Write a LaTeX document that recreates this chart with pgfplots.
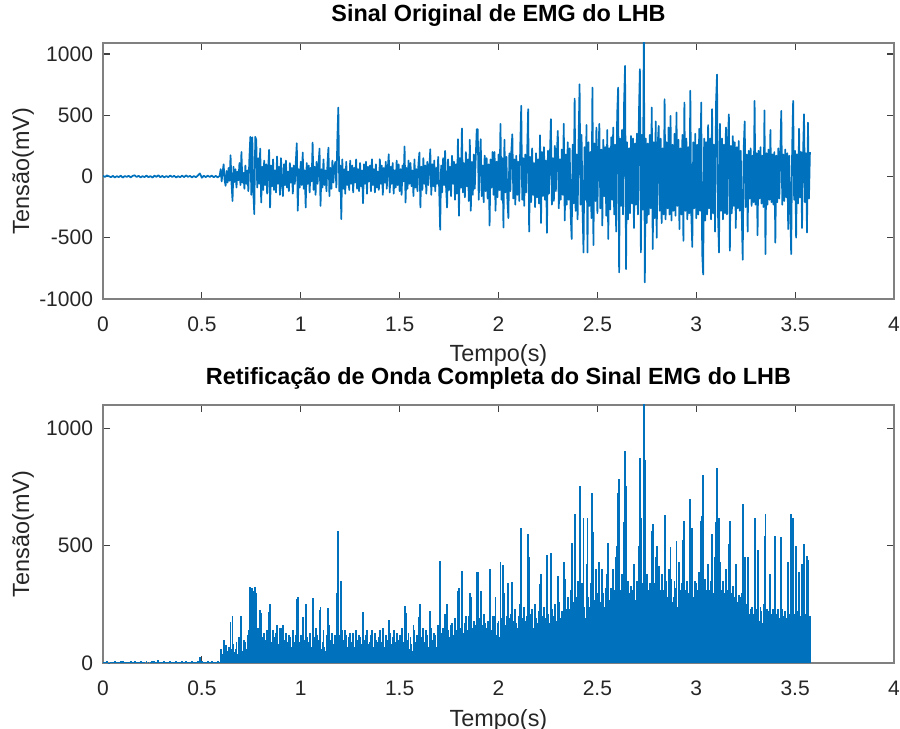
\documentclass[border=0pt]{standalone}
\usepackage{fontspec}
\setmainfont{Liberation Sans}
\usepackage{pgfplots}
\usepackage{pgfplotstable}
\pgfplotsset{compat=1.18}
\definecolor{mblue}{RGB}{0,114,189}
\pgfplotstableread{
t v
0.000 6
0.010 -4
0.020 9
0.030 2
0.040 -6
0.050 5
0.060 -8
0.070 3
0.080 -5
0.090 7
0.100 -9
0.110 4
0.120 -3
0.130 6
0.140 -7
0.150 5
0.160 10
0.170 -4
0.180 6
0.190 -8
0.200 3
0.210 -5
0.220 8
0.230 -6
0.240 4
0.250 -9
0.260 7
0.270 -3
0.280 11
0.290 -6
0.300 5
0.310 -7
0.320 4
0.330 -5
0.340 8
0.350 -4
0.360 6
0.370 -8
0.380 3
0.390 -6
0.400 7
0.410 -5
0.420 9
0.430 -3
0.440 5
0.450 -7
0.460 4
0.470 -6
0.480 8
0.490 25
0.500 -10
0.510 6
0.520 -5
0.530 7
0.540 -4
0.550 8
0.560 -6
0.570 5
0.580 -7
0.590 5
0.595 60
0.600 -40
0.605 35
0.610 100
0.615 -30
0.620 -76
0.625 45
0.630 -50
0.635 70
0.640 -35
0.645 174
0.650 -60
0.655 -200
0.660 80
0.665 -45
0.670 60
0.675 -90
0.680 40
0.685 -30
0.690 110
0.695 -70
0.700 200
0.705 -50
0.710 30
0.715 -100
0.720 90
0.725 -60
0.730 50
0.735 -120
0.740 140
0.745 324
0.750 -150
0.755 320
0.760 -120
0.765 -307
0.770 324
0.775 300
0.780 -90
0.785 150
0.790 -60
0.795 228
0.800 -212
0.805 80
0.810 -110
0.815 130
0.820 -70
0.825 100
0.830 -140
0.835 60
0.840 218
0.845 -253
0.850 90
0.855 -80
0.860 140
0.865 -110
0.870 50
0.875 -130
0.880 163
0.885 -60
0.890 80
0.895 -150
0.900 150
0.905 -40
0.910 -160
0.915 100
0.920 -70
0.925 130
0.930 -90
0.935 40
0.940 -120
0.945 110
0.950 -50
0.955 70
0.960 -140
0.965 90
0.970 -60
0.975 120
0.980 272
0.985 -280
0.990 60
0.995 -90
1.000 120
1.005 -70
1.010 196
1.015 -100
1.020 50
1.025 -253
1.030 110
1.035 -60
1.040 90
1.045 -130
1.050 70
1.055 -40
1.060 277
1.065 -110
1.070 80
1.075 -150
1.080 120
1.085 -60
1.090 100
1.095 228
1.100 -240
1.105 60
1.110 -90
1.115 140
1.120 -70
1.125 50
1.130 -120
1.135 100
1.140 236
1.145 -160
1.150 70
1.155 -100
1.160 130
1.165 -50
1.170 80
1.175 120
1.180 -90
1.185 300
1.190 563
1.195 -120
1.200 90
1.205 -348
1.210 140
1.215 -100
1.220 60
1.225 -140
1.230 120
1.235 -70
1.240 40
1.245 -110
1.250 130
1.255 -60
1.260 90
1.265 -130
1.270 70
1.275 -50
1.280 140
1.285 -100
1.290 60
1.295 -120
1.300 110
1.305 -80
1.310 50
1.315 -218
1.320 100
1.325 -60
1.330 120
1.335 -140
1.340 80
1.345 -40
1.350 90
1.355 -120
1.360 141
1.365 -70
1.370 60
1.375 -130
1.380 100
1.385 -90
1.390 40
1.395 -110
1.400 141
1.405 -60
1.410 90
1.415 -150
1.420 70
1.425 -50
1.430 120
1.435 -100
1.440 60
1.445 182
1.450 -130
1.455 80
1.460 -60
1.465 110
1.470 -140
1.475 50
1.480 -90
1.485 130
1.490 -70
1.495 100
1.500 -120
1.505 60
1.510 -150
1.515 90
1.520 -40
1.525 245
1.530 -212
1.535 70
1.540 -100
1.545 130
1.550 -60
1.555 110
1.560 -80
1.565 50
1.570 -160
1.575 140
1.580 -90
1.585 60
1.590 -120
1.595 100
1.600 196
1.605 -253
1.610 80
1.615 -110
1.620 150
1.625 -60
1.630 90
1.635 -140
1.640 120
1.645 -70
1.650 60
1.655 223
1.660 -150
1.665 100
1.670 -80
1.675 130
1.680 -120
1.685 70
1.690 -60
1.695 160
1.700 -100
1.705 -435
1.710 90
1.715 -130
1.720 150
1.725 -70
1.730 210
1.735 -90
1.740 -253
1.745 140
1.750 -110
1.755 80
1.760 -160
1.765 170
1.770 -60
1.775 120
1.780 -190
1.785 100
1.790 -140
1.795 305
1.800 -320
1.805 150
1.810 -90
1.815 392
1.820 -130
1.825 110
1.830 -170
1.835 200
1.840 -80
1.845 140
1.850 -200
1.855 300
1.860 -280
1.865 120
1.870 -150
1.875 180
1.880 -100
1.885 160
1.890 386
1.895 386
1.900 -190
1.905 130
1.910 305
1.915 -160
1.920 90
1.925 -210
1.930 170
1.935 -120
1.940 150
1.945 -180
1.950 100
1.955 -400
1.960 140
1.965 -90
1.970 200
1.975 -150
1.980 200
1.985 -280
1.990 120
1.995 -170
2.000 180
2.005 -110
2.010 430
2.015 -190
2.020 150
2.025 -416
2.030 300
2.035 -130
2.040 160
2.045 -200
2.050 -340
2.055 190
2.060 -120
2.065 210
2.070 345
2.075 -180
2.080 140
2.085 -230
2.090 170
2.095 -150
2.100 120
2.105 -200
2.110 250
2.115 577
2.120 -190
2.125 150
2.130 -240
2.135 180
2.140 -130
2.145 200
2.150 550
2.155 -450
2.160 160
2.165 -210
2.170 230
2.175 -150
2.180 110
2.185 -250
2.190 190
2.195 -170
2.200 140
2.205 -220
2.210 337
2.215 -380
2.220 200
2.225 -160
2.230 240
2.235 -190
2.240 130
2.245 -460
2.250 210
2.255 -140
2.260 170
2.265 468
2.270 -230
2.275 150
2.280 -200
2.285 250
2.290 -120
2.295 180
2.300 373
2.305 -260
2.310 140
2.315 -190
2.320 220
2.325 -150
2.330 430
2.335 -360
2.340 180
2.345 -230
2.350 280
2.355 -190
2.360 230
2.365 -310
2.370 -510
2.375 260
2.380 -220
2.385 636
2.390 -280
2.395 180
2.400 -350
2.405 300
2.410 753
2.415 -230
2.420 340
2.425 -270
2.430 -620
2.435 240
2.440 -190
2.445 420
2.450 -620
2.455 280
2.460 -240
2.465 200
2.470 -340
2.475 726
2.480 -560
2.485 270
2.490 -200
2.495 400
2.500 -300
2.505 190
2.510 430
2.515 -260
2.520 220
2.525 -400
2.530 300
2.535 -160
2.540 240
2.545 -320
2.550 380
2.555 -510
2.560 230
2.565 -270
2.570 320
2.575 -190
2.580 400
2.585 -310
2.590 260
2.595 -450
2.600 500
2.605 726
2.610 -783
2.615 310
2.620 -240
2.625 380
2.630 -310
2.635 600
2.640 903
2.645 -756
2.650 280
2.655 -350
2.660 230
2.665 -300
2.670 330
2.675 -220
2.680 310
2.685 -420
2.690 270
2.695 -230
2.700 350
2.705 -310
2.710 500
2.715 876
2.720 -620
2.725 340
2.730 -270
2.735 1250
2.740 -865
2.745 310
2.750 -380
2.755 270
2.760 -310
2.765 340
2.770 -260
2.775 563
2.780 -593
2.785 280
2.790 -340
2.795 450
2.800 -500
2.805 260
2.810 413
2.815 -280
2.820 310
2.825 -380
2.830 230
2.835 -310
2.840 631
2.845 -350
2.850 280
2.855 -260
2.860 400
2.865 -310
2.870 495
2.875 -360
2.880 260
2.885 -280
2.890 350
2.895 -320
2.900 522
2.905 -240
2.910 300
2.915 -430
2.920 230
2.925 -310
2.930 340
2.935 -525
2.940 604
2.945 -280
2.950 310
2.955 -350
2.960 240
2.965 -300
2.970 700
2.975 -310
2.980 -575
2.985 280
2.990 -260
2.995 350
3.000 -340
3.005 260
3.010 -310
3.015 390
3.020 -280
3.025 604
3.030 -625
3.035 -800
3.040 310
3.045 -360
3.050 280
3.055 -310
3.060 420
3.065 -260
3.070 310
3.075 -350
3.080 550
3.085 -300
3.090 260
3.095 -450
3.100 600
3.105 832
3.110 -310
3.115 -620
3.120 430
3.125 -280
3.130 310
3.135 -350
3.140 260
3.145 -300
3.150 400
3.155 -310
3.160 280
3.165 508
3.170 -606
3.175 250
3.180 -300
3.185 330
3.190 -240
3.195 280
3.200 -420
3.205 240
3.210 -260
3.215 290
3.220 -280
3.225 210
3.230 -300
3.235 -680
3.240 230
3.245 450
3.250 -250
3.255 180
3.260 -450
3.265 210
3.270 -180
3.275 230
3.280 -240
3.285 170
3.290 -210
3.295 617
3.300 -230
3.305 190
3.310 -480
3.315 210
3.320 -180
3.325 240
3.330 -220
3.335 170
3.340 -250
3.345 540
3.350 -634
3.355 190
3.360 -230
3.365 220
3.370 -190
3.375 380
3.380 -210
3.385 180
3.390 -230
3.395 200
3.400 -540
3.405 170
3.410 -210
3.415 230
3.420 -180
3.425 190
3.430 536
3.435 -230
3.440 180
3.445 -200
3.450 220
3.455 -170
3.460 190
3.465 -430
3.470 170
3.475 -210
3.480 -634
3.485 230
3.490 617
3.495 -190
3.500 210
3.505 -500
3.510 180
3.515 -220
3.520 390
3.525 -170
3.530 200
3.535 -420
3.540 180
3.545 508
3.550 -210
3.555 190
3.560 -457
3.565 440
3.570 -180
3.575 200
}\emg

\pgfplotsset{
  emgax/.style={
    scale only axis, width=395.5bp, anchor=south west,
    xmin=0, xmax=4, xtick={0,0.5,1,1.5,2,2.5,3,3.5,4},
    axis line style={draw=black!50, line width=1bp},
    tick style={draw=black!75, line width=0.6bp},
    major tick length=3.5bp, tick align=inside,
    every tick label/.append style={font=\fontsize{10.5bp}{12bp}\selectfont, text=black!85},
    /pgf/number format/assume math mode=true,
    /pgf/number format/1000 sep={},
    scaled ticks=false,
    xticklabel style={anchor=base, yshift=-16.3bp},
    yticklabel style={xshift=-1.5bp},
    label style={font=\fontsize{11.7bp}{13bp}\selectfont, text=black!85},
    xlabel={Tempo(s)},
    ylabel={Tensão(mV)},
    xlabel style={at={(axis description cs:0.5,0)}, anchor=base, yshift=-31.5bp},
    ylabel style={at={(axis description cs:-0.0933,0.5)}, anchor=base},
    title style={font=\bfseries\fontsize{11.7bp}{13bp}\selectfont, text=black, anchor=base, at={(axis description cs:0.5,1)}},
  }
}

\begin{document}
\begin{tikzpicture}
\useasboundingbox (0,0) rectangle (450bp,364.5bp);
\begin{axis}[emgax, at={(51.5bp,215bp)}, height=128bp,
  ymin=-1000, ymax=1090, ytick={-1000,-500,0,500,1000},
  title={Sinal Original de EMG do LHB}, title style={yshift=5bp}]
\addplot[mblue, line width=0.85bp, line join=round] table[x=t, y=v]{\emg};
\end{axis}
\begin{axis}[emgax, at={(51.5bp,33bp)}, height=129bp,
  ymin=0, ymax=1100, ytick={0,500,1000},
  title={Retificação de Onda Completa do Sinal EMG do LHB}, title style={yshift=4.2bp}]
\addplot[mblue, line width=0.95bp, ycomb] table[x=t, y expr={abs(\thisrow{v})}]{\emg};
\end{axis}
\end{tikzpicture}
\end{document}
